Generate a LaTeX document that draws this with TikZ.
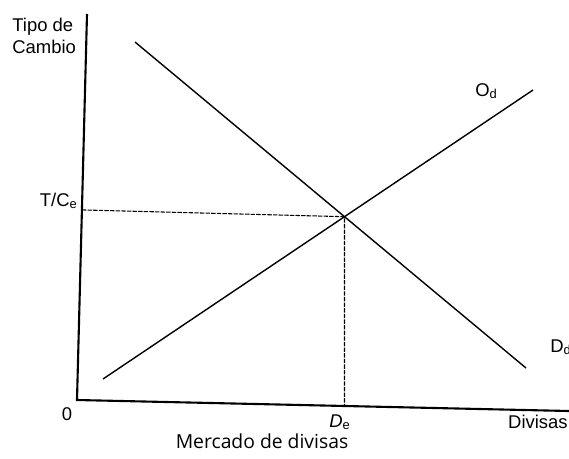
\documentclass[tikz,border=0pt]{standalone}
\usepackage{fontspec}
\setmainfont{Liberation Sans}
\newfontfamily\titulofont{Open Sans}
\usetikzlibrary{calc}

\begin{document}
\begin{tikzpicture}[x=0.02cm, y=-0.02cm,
    eje/.style={line width=1.2pt},
    recta/.style={line width=0.8pt},
    guia/.style={line width=0.6pt, dash pattern=on 2.5pt off 0.7pt},
    etiq/.style={inner sep=0pt, font=\fontsize{10.5}{12.5}\selectfont}]
  \useasboundingbox (0,0) rectangle (569,458);
  % Ejes
  \coordinate (o) at (77,400);
  \coordinate (ytop) at (87,14);
  \coordinate (xend) at (569,411);
  \draw[eje] (ytop) -- (o) -- (xend);
  % Oferta y demanda
  \coordinate (d1) at (135,42);
  \coordinate (d2) at (526,368);
  \coordinate (s1) at (103,379);
  \coordinate (s2) at (533,90);
  \draw[recta] (d1) -- (d2);
  \draw[recta] (s1) -- (s2);
  % Equilibrio
  \coordinate (eq) at (intersection of d1--d2 and s1--s2);
  \coordinate (tc) at ($(o)!(eq)!(ytop)$);
  \coordinate (abajo) at ($(eq)+(0,100)$);
  \coordinate (de) at (intersection of o--xend and eq--abajo);
  \draw[guia] (tc) -- (eq) -- (de);
  % Etiquetas
  \node[etiq, align=left, anchor=north west] (tipo) at (12,18) {Tipo de\\Cambio};
  \node[etiq, anchor=base east] (tce) at (78,206) {T/C\textsubscript{e}};
  \node[etiq, anchor=base] (cero) at (67,420) {0};
  \node[etiq, anchor=base] (dee) at (340,427) {\textit{D}\textsubscript{e}};
  \node[etiq, anchor=base east] (divisas) at (568,428) {Divisas};
  \node[etiq, anchor=base west] (od) at (475,96) {O\textsubscript{d}};
  \node[etiq, anchor=base west] (dd) at (550,352) {D\textsubscript{d}};
  \node[inner sep=0pt, anchor=base, font=\titulofont\fontsize{11}{13}\selectfont] (titulo) at (262,448) {Mercado de divisas};
\end{tikzpicture}
\end{document}
